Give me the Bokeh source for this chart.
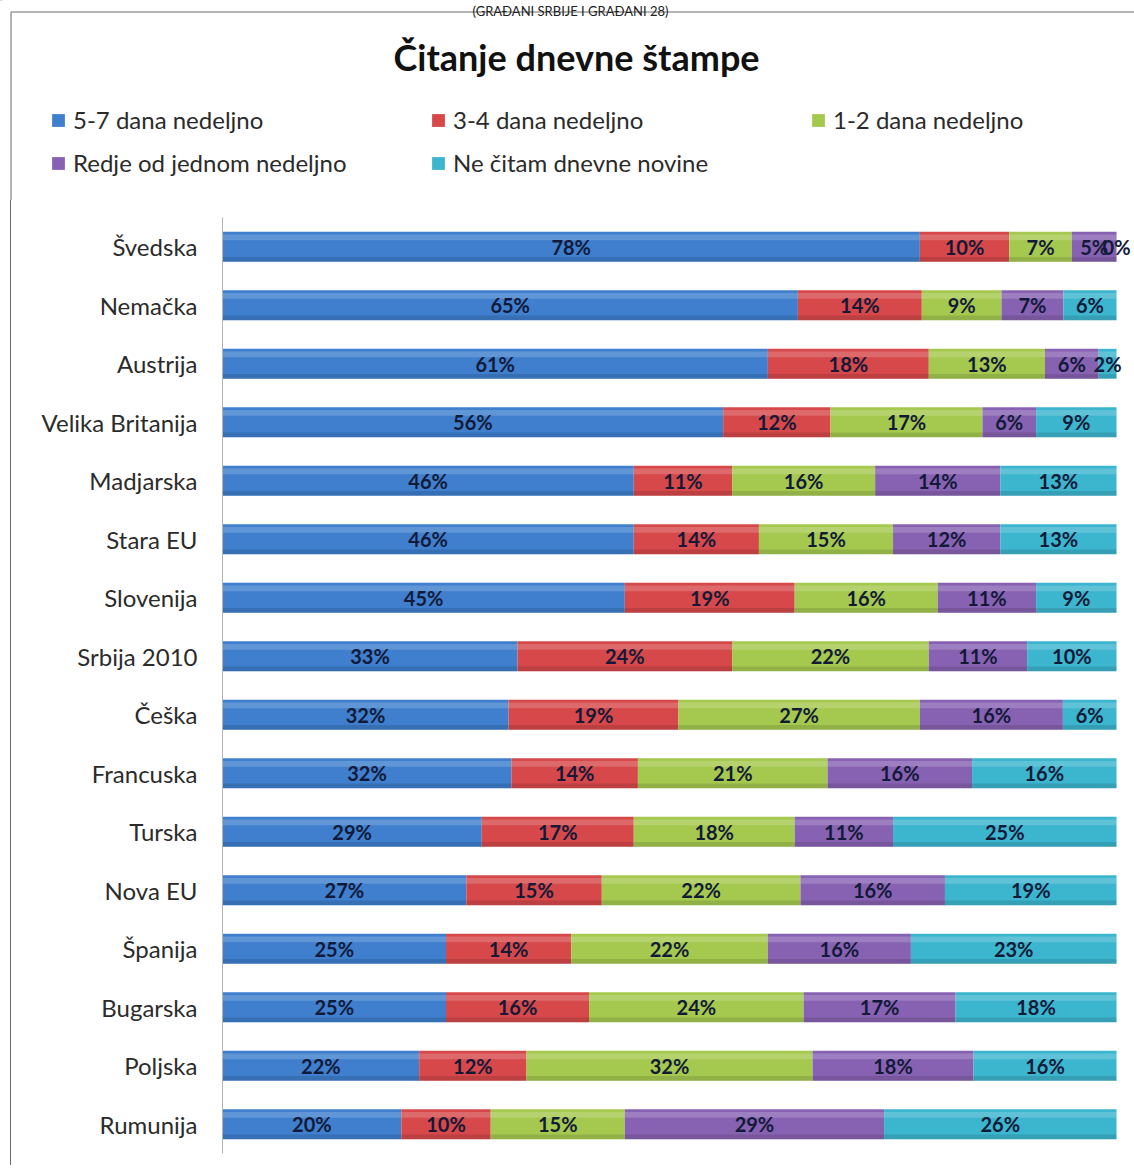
from bokeh.plotting import figure
from bokeh.layouts import column
from bokeh.models import ColumnDataSource, FactorRange, Range1d, Label, Legend, LegendItem
from bokeh.transform import dodge
from bokeh.core.properties import value
from bokeh.embed import file_html
from bokeh.resources import INLINE

top_text = "(GRAĐANI SRBIJE I GRAĐANI 28)"
title_text = "Čitanje dnevne štampe"

categories = ["Švedska", "Nemačka", "Austrija", "Velika Britanija", "Madjarska",
              "Stara EU", "Slovenija", "Srbija 2010", "Češka", "Francuska",
              "Turska", "Nova EU", "Španija", "Bugarska", "Poljska", "Rumunija"]

series_names = ["5-7 dana nedeljno", "3-4 dana nedeljno", "1-2 dana nedeljno",
                "Redje od jednom nedeljno", "Ne čitam dnevne novine"]

s_5_7 = [78, 65, 61, 56, 46, 46, 45, 33, 32, 32, 29, 27, 25, 25, 22, 20]
s_3_4 = [10, 14, 18, 12, 11, 14, 19, 24, 19, 14, 17, 15, 14, 16, 12, 10]
s_1_2 = [7, 9, 13, 17, 16, 15, 16, 22, 27, 21, 18, 22, 22, 24, 32, 15]
s_redje = [5, 7, 6, 6, 14, 12, 11, 11, 16, 16, 11, 16, 16, 17, 18, 29]
s_ne = [0, 6, 2, 9, 13, 13, 9, 10, 6, 16, 25, 19, 23, 18, 16, 26]

colors = ["#3f7fce", "#d6484a", "#a5c94f", "#8862b2", "#3cb5cf"]

series = [s_5_7, s_3_4, s_1_2, s_redje, s_ne]
totals = [sum(v) for v in zip(*series)]

FONT = "Lato"
HEAD_H = 200

# ---------------- header: title + legend ----------------
h = figure(width=1134, height=HEAD_H, x_range=Range1d(0, 1134), y_range=Range1d(HEAD_H, 0),
           output_backend="svg", toolbar_location=None,
           min_border_left=0, min_border_right=0, min_border_top=0, min_border_bottom=0,
           x_axis_location=None, y_axis_location=None)
h.frame_align = False
h.title.visible = False
h.outline_line_color = None
h.grid.visible = False
h.background_fill_color = "white"
h.border_fill_color = "white"

# frame lines of the chart area
h.segment(x0=[10.5, 10.5], y0=[11.5, 11.5], x1=[1134, 10.5], y1=[11.5, HEAD_H],
          line_color="#6a6a6a", line_width=1)

h.add_layout(Label(x=570, y=10, text=top_text, text_align="center", text_baseline="alphabetic",
                   text_font=FONT, text_font_size="13px", text_color="#222222"))
h.add_layout(Label(x=576, y=56, text=title_text, text_align="center", text_baseline="middle",
                   text_font=FONT, text_font_style="bold", text_font_size="36px",
                   text_color="#111111"))

items = []
for name, col in zip(series_names, colors):
    r = h.hbar(y=[-1000], left=[0], right=[1], height=1, fill_color=col, line_color=None)
    items.append(LegendItem(label=name, renderers=[r]))

legend = Legend(items=items, orientation="horizontal", ncols=3, location=(50, 16),
                glyph_width=16, glyph_height=16, label_standoff=7,
                label_width=357, label_height=43, spacing=0, padding=0, margin=0,
                border_line_color=None, background_fill_alpha=0,
                label_text_font=FONT, label_text_font_size="24px",
                label_text_color="#2b2b2b")
h.add_layout(legend)

# ---------------- bars ----------------
p = figure(width=1123, height=965,
           y_range=FactorRange(factors=categories[::-1]),
           x_range=Range1d(0, 102.01),
           output_backend="svg", toolbar_location=None,
           min_border_left=211, min_border_right=0,
           min_border_top=17, min_border_bottom=12,
           x_axis_location=None)
p.frame_align = False
p.title.visible = False
p.outline_line_color = None
p.xgrid.visible = False
p.ygrid.visible = False
p.background_fill_color = "white"
p.border_fill_color = "white"

yax = p.yaxis[0]
yax.axis_line_color = "#b4b4b4"
yax.major_tick_line_color = None
yax.minor_tick_line_color = None
yax.major_tick_out = 0
yax.major_tick_in = 0
yax.major_label_standoff = 25
yax.major_label_text_font = FONT
yax.major_label_text_font_size = "24px"
yax.major_label_text_color = "#2b2b2b"

left = [0.0] * len(categories)
lab_x, lab_y, lab_t = [], [], []
for vals, col in zip(series, colors):
    share = [v / t * 100 for v, t in zip(vals, totals)]
    right = [l + s for l, s in zip(left, share)]
    src = ColumnDataSource(dict(cat=categories, left=left, right=right))
    p.hbar(y="cat", left="left", right="right", height=0.51, source=src,
           fill_color=col, line_color=None)
    p.hbar(y=dodge("cat", 0.16, range=p.y_range), left="left", right="right",
           height=0.1, source=src, fill_color="white", fill_alpha=0.18, line_color=None)
    p.hbar(y=dodge("cat", -0.215, range=p.y_range), left="left", right="right",
           height=0.08, source=src, fill_color="black", fill_alpha=0.12, line_color=None)
    for c, l, rr, v in zip(categories, left, right, vals):
        lab_x.append((l + rr) / 2)
        lab_y.append(c)
        lab_t.append(f"{v}%")
    left = right

lsrc = ColumnDataSource(dict(x=lab_x, y=lab_y, t=lab_t))
p.text(x="x", y="y", text="t", source=lsrc, text_align="center", text_baseline="middle",
       text_font=value(FONT), text_font_style="bold", text_font_size="20px",
       text_color="#121a38")

p.styles = {"border-left": "1px solid #6a6a6a", "margin-left": "10px"}

layout = column(h, p, spacing=0)
open("out.html", "w").write(file_html(layout, INLINE))
